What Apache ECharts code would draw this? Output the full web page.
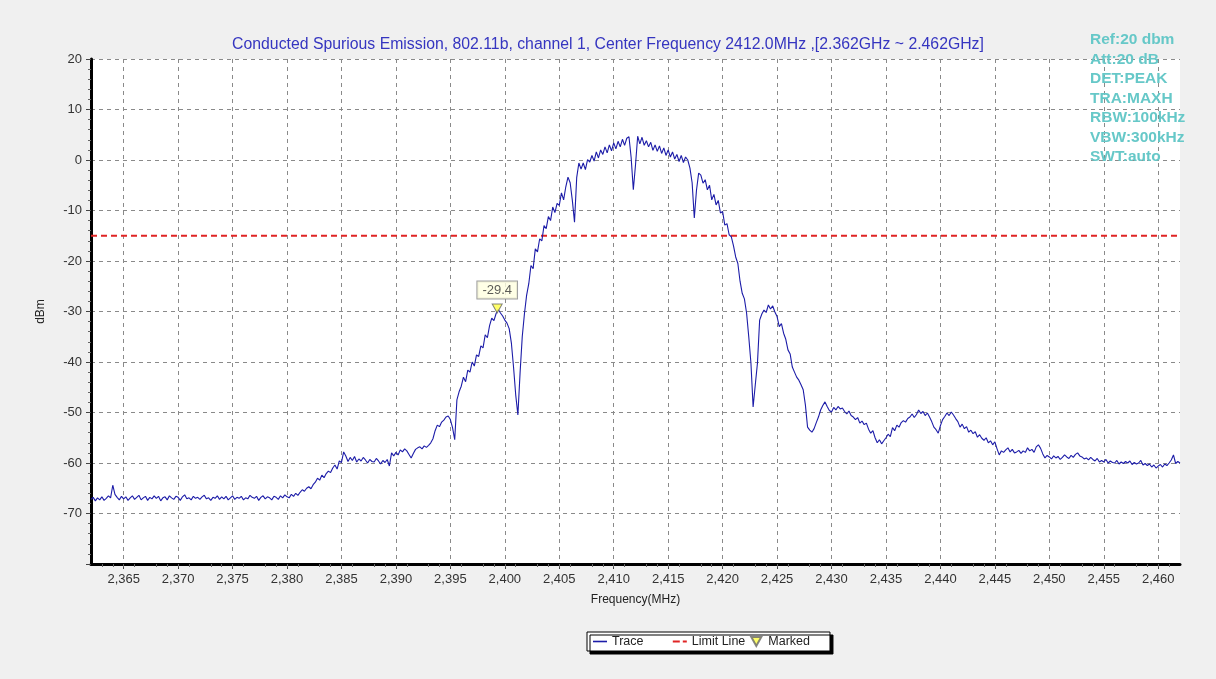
<!DOCTYPE html>
<html>
<head>
<meta charset="utf-8">
<style>
  html, body { margin: 0; padding: 0; background: #f0f0f0; }
  #chart { width: 1216px; height: 679px; }
</style>
<script src="https://cdn.jsdelivr.net/npm/echarts@6/dist/echarts.min.js"></script>
</head>
<body>
<div id="chart"></div>
<script>
var titleText = 'Conducted Spurious Emission, 802.11b, channel 1, Center Frequency 2412.0MHz ,[2.362GHz ~ 2.462GHz]';
var infoLines = ['Ref:20 dbm', 'Att:20 dB', 'DET:PEAK', 'TRA:MAXH', 'RBW:100kHz', 'VBW:300kHz', 'SWT:auto'];

var freqMin = 2362;
var freqMax = 2462;
var freqTicks = [2365, 2370, 2375, 2380, 2385, 2390, 2395, 2400, 2405, 2410, 2415, 2420, 2425, 2430, 2435, 2440, 2445, 2450, 2455, 2460];

// trace sampled every 0.2 MHz starting at 2362 MHz
var traceStartMHz = 2362;
var traceStepMHz = 0.2;
var traceDbm = [
  -67.2, -66.8, -67.5, -66.9, -67.3,
  -66.7, -67.4, -67.0, -66.5, -66.9,
  -64.4, -66.2, -66.8, -67.3, -66.6,
  -67.1, -66.7, -67.4, -66.9, -66.5,
  -67.2, -66.8, -66.4, -67.3, -66.9,
  -66.6, -67.4, -66.8, -67.1, -66.5,
  -67.0, -66.6, -67.5, -66.9, -66.7,
  -67.3, -66.5, -66.9, -67.2, -66.6,
  -66.8, -67.4, -66.7, -66.3, -67.1,
  -66.9, -67.3, -66.6, -67.0, -66.8,
  -67.2, -66.7, -66.4, -67.1, -66.9,
  -67.4, -66.8, -67.0, -66.5, -67.2,
  -66.7, -67.1, -66.6, -67.3, -66.9,
  -66.5, -67.2, -66.8, -67.0, -66.6,
  -67.3, -66.9, -67.1, -66.4, -66.8,
  -67.0, -66.6, -67.4, -66.8, -66.5,
  -67.1, -66.7, -66.9, -67.3, -66.6,
  -66.8, -67.2, -66.5, -66.9, -66.3,
  -66.7, -66.9, -66.2, -66.6, -66.0,
  -66.4, -65.8, -65.3, -65.6, -65.0,
  -64.7, -65.1, -64.3, -63.8, -63.0,
  -63.4, -62.4, -62.9, -62.1, -61.6,
  -61.9, -61.0, -60.4, -61.2, -59.6,
  -59.9, -57.8, -58.6, -59.7, -58.9,
  -59.5, -58.7, -59.8, -59.2, -59.6,
  -58.9, -59.4, -60.0, -59.3, -59.7,
  -59.8, -59.1, -59.6, -60.2, -59.5,
  -59.9, -59.3, -60.6, -58.0, -58.6,
  -57.9, -58.4, -57.4, -57.8, -57.2,
  -57.6, -58.3, -59.0, -58.1, -57.3,
  -57.0, -56.8, -57.2, -56.6, -56.9,
  -56.5, -56.0, -55.2, -53.6, -52.5,
  -52.8, -51.9, -51.5, -50.9, -50.7,
  -51.4, -53.0, -55.4, -47.5, -45.9,
  -44.8, -43.0, -43.9, -41.6, -42.0,
  -40.0, -40.8, -38.6, -38.9, -36.8,
  -37.2, -34.6, -35.2, -32.8, -31.3,
  -31.8, -30.4, -29.6, -30.3, -30.9,
  -31.7, -32.3, -33.4, -36.2, -41.0,
  -46.5, -50.5, -42.2, -35.0, -30.5,
  -26.8, -24.5, -20.9, -21.5, -17.6,
  -18.2, -15.6, -16.0, -13.0, -13.6,
  -11.2, -12.0, -9.3, -10.4, -8.6,
  -9.0, -6.5, -7.9, -5.3, -3.4,
  -4.5, -8.0, -12.3, -3.5, -0.6,
  -1.8, -0.6, -1.9, 0.1, -0.4,
  0.9, -0.2, 1.6, 0.4, 2.0,
  1.1, 2.6, 1.4, 3.0, 1.8,
  3.4, 2.2, 3.7, 2.6, 4.1,
  2.9, 4.3, 4.6, 0.5, -5.9,
  -1.0, 4.7, 3.2, 4.5, 2.9,
  3.8, 2.6, 3.5, 1.9, 3.0,
  1.7, 2.8, 1.3, 2.4, 0.9,
  2.0, 0.6, 1.6, 0.2, 1.1,
  -0.3, 0.9, -0.5, 0.6, 0.0,
  -1.6, -4.5, -11.5, -6.0, -2.6,
  -3.0, -4.6, -3.9, -5.9, -5.0,
  -7.9, -6.8, -8.9, -8.0, -10.5,
  -10.2, -12.9, -12.6, -14.8, -15.2,
  -17.0, -19.2, -20.5, -24.0, -26.4,
  -27.5, -30.3, -35.0, -40.2, -48.9,
  -44.5, -40.2, -31.7, -30.5, -29.7,
  -30.2, -28.7, -29.5, -28.9, -30.1,
  -31.0, -33.0, -32.4, -34.3, -35.5,
  -37.6, -38.4, -41.0, -42.0, -43.0,
  -43.6, -44.5, -45.5, -48.5, -52.9,
  -53.5, -53.9, -53.2, -52.0, -50.9,
  -49.5, -48.6, -47.9, -48.8, -49.6,
  -49.9, -49.0, -49.5, -48.8, -49.3,
  -49.1, -49.8, -50.3, -49.7, -50.6,
  -50.9, -51.4, -51.0, -52.1, -51.7,
  -52.4, -52.1, -53.3, -54.1, -53.6,
  -55.0, -56.0, -55.4, -56.2, -55.6,
  -55.0, -54.3, -54.8, -53.0, -53.6,
  -52.5, -52.9, -52.0, -51.6, -51.9,
  -51.2, -50.9, -50.3, -51.0, -50.4,
  -49.5, -50.2, -49.8, -50.6, -50.1,
  -50.9, -51.8, -52.9, -53.4, -54.1,
  -52.6, -51.4, -50.8, -50.1, -50.6,
  -49.9, -50.5, -51.2, -51.8, -52.9,
  -52.3, -53.2, -52.8, -53.9, -53.5,
  -54.2, -53.8, -54.9, -54.4, -55.1,
  -55.5, -55.0, -56.0, -55.6, -56.4,
  -55.8, -57.2, -58.4, -57.6, -57.9,
  -57.4, -57.0, -57.8, -57.3, -58.0,
  -57.8, -57.5, -58.1, -57.6, -57.9,
  -57.0, -57.6, -57.3, -57.9, -56.8,
  -56.4, -57.1, -58.2, -59.0, -58.5,
  -58.8, -59.2, -58.6, -59.0, -58.7,
  -59.3, -58.9, -58.4, -58.8, -59.1,
  -58.5, -58.9, -58.3, -58.0, -58.6,
  -58.8, -59.2, -59.0, -59.4, -58.9,
  -59.3, -59.6, -59.1, -59.8, -59.5,
  -59.8, -59.3, -60.0, -59.6, -59.9,
  -60.0, -59.5, -60.2, -59.8, -60.1,
  -59.7, -60.0, -59.6, -60.3, -59.9,
  -60.2, -60.0, -59.5, -60.4, -60.1,
  -60.5, -60.2, -60.8, -60.4, -61.0,
  -60.6, -60.3, -60.8, -60.2, -60.5,
  -60.0, -59.4, -58.4, -60.1, -59.7,
  -60.0
];

var limitDbm = -15;
var markedFreq = [2399.3];
var markedDbm = [-29.4];

var fontFamily = '"Liberation Sans", Arial, sans-serif';

var traceData = traceDbm.map(function (v, i) {
  return [Math.round((traceStartMHz + i * traceStepMHz) * 10) / 10, v];
});
var limitData = [[freqMin, limitDbm], [freqMax, limitDbm]];
var markedData = markedFreq.map(function (f, i) {
  return [f, markedDbm[i]];
});

var chart = echarts.init(document.getElementById('chart'), null, { renderer: 'canvas' });

chart.setOption({
  animation: false,
  backgroundColor: '#f0f0f0',
  title: {
    text: titleText,
    left: 'center',
    top: 32,
    textStyle: { color: '#3535c0', fontSize: 15.8, fontWeight: 'normal', fontFamily: fontFamily }
  },
  grid: {
    left: 91,
    right: 36,
    top: 59,
    bottom: 115,
    show: true,
    backgroundColor: '#ffffff',
    borderWidth: 0,
    containLabel: false
  },
  legend: {
    left: 587,
    top: 632,
    itemWidth: 14,
    itemHeight: 9,
    itemGap: 5,
    padding: [3, 20, 3, 6],
    backgroundColor: '#ffffff',
    borderColor: '#000000',
    borderWidth: 1,
    borderRadius: 0,
    shadowColor: '#000000',
    shadowBlur: 0,
    shadowOffsetX: 3,
    shadowOffsetY: 3,
    textStyle: { color: '#222', fontSize: 12.5, fontFamily: fontFamily },
    formatter: function (name) {
      return name === 'Trace' ? name + '       ' : name;
    },
    data: [
      { name: 'Trace', icon: 'path://M0,0 L14,0 L14,1.6 L0,1.6 Z' },
      { name: 'Limit Line', icon: 'path://M0,0 L7,0 L7,2 L0,2 Z M10,0 L14,0 L14,2 L10,2 Z' },
      { name: 'Marked', icon: 'path://M0,0 L10,0 L5,9 Z' }
    ]
  },
  xAxis: {
    type: 'value',
    min: freqMin,
    max: freqMax,
    interval: 5,
    name: 'Frequency(MHz)',
    nameLocation: 'middle',
    nameGap: 30,
    nameTextStyle: { color: '#222', fontSize: 12, fontFamily: fontFamily },
    axisLine: { show: true, onZero: false, lineStyle: { color: '#000', width: 3 } },
    axisTick: { show: true, length: 5, customValues: freqTicks, lineStyle: { color: '#444' } },
    minorTick: { show: true, splitNumber: 5, length: 3, lineStyle: { color: '#666' } },
    axisLabel: {
      customValues: freqTicks,
      margin: 9,
      color: '#333',
      fontSize: 13,
      fontFamily: fontFamily,
      formatter: function (v) {
        return String(v).replace(/(\d)(\d{3})$/, '$1,$2');
      }
    },
    splitLine: { show: true, lineStyle: { color: '#8a8a8a', type: [4, 4], width: 1 } },
    minorSplitLine: { show: false }
  },
  yAxis: {
    type: 'value',
    min: -80,
    max: 20,
    interval: 10,
    name: 'dBm',
    nameLocation: 'middle',
    nameGap: 44,
    nameTextStyle: { color: '#222', fontSize: 12, fontFamily: fontFamily },
    axisLine: { show: true, lineStyle: { color: '#000', width: 3 } },
    axisTick: { show: true, length: 5, lineStyle: { color: '#444' } },
    minorTick: { show: true, splitNumber: 5, length: 3, lineStyle: { color: '#666' } },
    axisLabel: {
      margin: 9,
      color: '#333',
      fontSize: 13,
      fontFamily: fontFamily,
      formatter: function (v) {
        return v === -80 ? '' : String(v);
      }
    },
    splitLine: { show: true, lineStyle: { color: '#8a8a8a', type: [4, 4], width: 1 } }
  },
  graphic: [{
    type: 'text',
    left: 1090,
    top: 30,
    z: 100,
    style: {
      text: infoLines.join('\n'),
      fill: '#66c8c8',
      font: 'bold 15.5px "Liberation Sans", Arial, sans-serif',
      lineHeight: 19.5
    }
  }],
  series: [
    {
      name: 'Trace',
      type: 'line',
      data: traceData,
      symbol: 'none',
      color: '#1c1ca8',
      lineStyle: { color: '#1c1ca8', width: 1.1 },
      z: 3
    },
    {
      name: 'Limit Line',
      type: 'line',
      data: limitData,
      symbol: 'none',
      color: '#e02424',
      lineStyle: { color: '#e02424', width: 2, type: [6, 4] },
      z: 2
    },
    {
      name: 'Marked',
      type: 'scatter',
      data: markedData,
      symbol: 'path://M0,0 L10,0 L5,9 Z',
      symbolSize: [10, 9],
      itemStyle: { color: '#ffff44', borderColor: '#666', borderWidth: 1 },
      label: {
        show: true,
        position: 'top',
        distance: 5,
        formatter: function (p) { return String(p.value[1]); },
        color: '#333',
        fontSize: 13,
        fontFamily: fontFamily,
        backgroundColor: '#ffffe0',
        borderColor: '#888',
        borderWidth: 1,
        padding: [2, 5]
      },
      z: 5
    }
  ]
});
</script>
</body>
</html>
